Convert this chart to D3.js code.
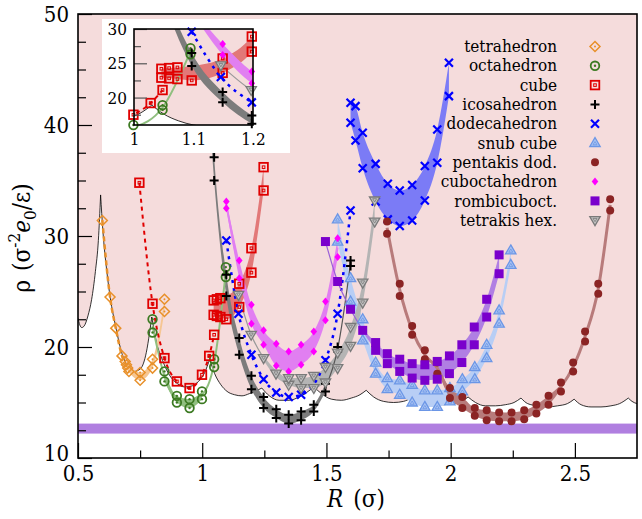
<!DOCTYPE html>
<html>
<head>
<meta charset="utf-8">
<script src="https://cdn.jsdelivr.net/npm/d3@7"></script>
<style>
  body { margin: 0; background: #fff; }
  svg text { font-family: 'DejaVu Serif Condensed', 'DejaVu Serif', serif; font-stretch: condensed; fill: #000; }
</style>
</head>
<body>
<svg id="chart" width="642" height="519"></svg>
<script>
// ---- data (R in sigma, rho in sigma^-2 e0/eps) ----
const legendNames = ['tetrahedron', 'octahedron', 'cube', 'icosahedron', 'dodecahedron',
  'snub cube', 'pentakis dod.', 'cuboctahedron', 'rombicuboct.', 'tetrakis hex.']

const xMajorTicks = [0.5, 1, 1.5, 2, 2.5]
const yMajorTicks = [10, 20, 30, 40, 50]
const insetXTicks = [1, 1.1, 1.2]
const insetYTicks = [20, 25, 30]

// boundary of the shaded region, one array per scallop (cusp to cusp)
const boundary = [
  [[0.5, 22.6], [0.507, 22.0], [0.515, 21.75], [0.525, 21.9], [0.54, 22.8], [0.555, 24.3], [0.57, 26.8], [0.582, 29.6], [0.591, 33.7]],
  [[0.591, 33.7], [0.60, 30.5], [0.615, 27.0], [0.63, 24.4], [0.652, 21.8], [0.677, 19.4], [0.70, 18.3], [0.725, 17.8], [0.75, 18.0], [0.772, 19.2], [0.797, 22.7]],
  [[0.797, 22.7], [0.815, 20.5], [0.84, 18.8], [0.87, 17.4], [0.90, 16.7], [0.93, 16.4], [0.96, 16.5], [0.985, 16.9], [1.01, 17.7], [1.03, 18.9]],
  [[1.03, 18.9], [1.05, 17.6], [1.075, 16.6], [1.10, 16.0], [1.13, 15.7], [1.16, 15.6], [1.19, 15.8], [1.24, 16.3]],
  [[1.24, 16.3], [1.27, 15.6], [1.31, 15.2], [1.35, 15.2], [1.39, 15.5], [1.42, 15.9], [1.45, 16.4]],
  [[1.45, 16.4], [1.48, 15.8], [1.52, 15.3], [1.56, 15.2], [1.60, 15.4], [1.635, 15.7], [1.66, 16.1]],
  [[1.66, 16.1], [1.69, 15.5], [1.73, 15.1], [1.77, 15.0], [1.81, 15.1], [1.84, 15.4], [1.865, 15.8]],
  [[1.865, 15.8], [1.89, 15.2], [1.93, 14.9], [1.97, 14.8], [2.01, 14.9], [2.045, 15.1], [2.07, 15.5]],
  [[2.07, 15.5], [2.10, 15.0], [2.14, 14.7], [2.18, 14.7], [2.22, 14.8], [2.255, 15.0], [2.283, 15.4]],
  [[2.283, 15.4], [2.31, 14.9], [2.35, 14.7], [2.39, 14.6], [2.43, 14.7], [2.47, 14.9], [2.497, 15.3]],
  [[2.497, 15.3], [2.525, 14.8], [2.565, 14.6], [2.605, 14.6], [2.645, 14.7], [2.68, 14.9], [2.715, 15.4]],
  [[2.715, 15.4], [2.73, 15.1], [2.75, 14.9]],
]
const flatBand = [12.2, 13.1]

const tetraPts = [[0.598, 31.4], [0.629, 24.5], [0.652, 21.7], [0.677, 19.2], [0.69, 18.7], [0.695, 18.4], [0.70, 18.1], [0.705, 17.8], [0.75, 17.7], [0.75, 17.0], [0.80, 18.9], [0.80, 18.1], [0.848, 24.3], [0.848, 23.2]]
const tetraLine = [[0.598, 31.4], [0.629, 24.5], [0.652, 21.7], [0.677, 19.2], [0.70, 18.1]]
const tetraBand = [[0.695, 18.0, 18.7], [0.75, 17.0, 17.7], [0.80, 18.1, 18.9], [0.848, 23.2, 24.3]]

const octaPts = [[0.80, 22.5], [0.80, 21.3], [0.848, 17.8], [0.848, 16.9], [0.898, 15.6], [0.898, 15.0], [0.949, 15.3], [0.949, 14.5], [0.999, 16.0], [0.999, 15.3], [1.048, 18.9], [1.048, 18.2], [1.095, 27.2], [1.095, 26.3]]
const octaLine = [[0.80, 21.9], [0.848, 17.35], [0.898, 15.3], [0.949, 14.9], [0.999, 15.65], [1.048, 18.55], [1.095, 26.75]]
const octaBand = [[0.848, 16.9, 17.8], [0.898, 15.0, 15.6], [0.949, 14.5, 15.3], [0.999, 15.3, 16.0]]

const cubePts = [[0.747, 34.8], [0.80, 23.9], [0.848, 19.0], [0.898, 16.9], [0.949, 16.3], [0.999, 17.5], [1.028, 19.2], [1.048, 21.1], [1.046, 22.9], [1.046, 24.2], [1.059, 22.8], [1.059, 24.3], [1.073, 22.7], [1.073, 24.4], [1.097, 22.5], [1.149, 23.6], [1.149, 25.7], [1.198, 26.7], [1.198, 28.9], [1.247, 34.1], [1.247, 36.2]]
const cubeLine = [[0.747, 34.8], [0.80, 23.9], [0.848, 19.0], [0.898, 16.9], [0.949, 16.3], [0.999, 17.5], [1.028, 19.2], [1.048, 21.1]]
const cubeBand = [[1.046, 22.9, 24.2], [1.059, 22.8, 24.3], [1.073, 22.7, 24.4], [1.097, 22.5, 24.6], [1.149, 23.6, 25.7], [1.198, 26.7, 28.9], [1.247, 34.1, 36.2]]

const icoPts = [[1.048, 37.1], [1.048, 35.0], [1.097, 26.5], [1.097, 24.6], [1.149, 20.8], [1.149, 19.3], [1.198, 17.4], [1.198, 16.2], [1.247, 15.5], [1.247, 14.5], [1.298, 14.4], [1.298, 13.6], [1.348, 13.9], [1.348, 13.1], [1.398, 14.2], [1.398, 13.4], [1.449, 14.8], [1.449, 14.2], [1.496, 16.7], [1.496, 16.0], [1.545, 20.0], [1.545, 19.6], [1.597, 27.8], [1.597, 27.3]]
const icoLine = [[1.496, 16.35], [1.545, 19.8], [1.597, 27.55]]
const icoBand = [[1.03, 40.5, 43.5], [1.048, 35.0, 37.1], [1.097, 24.6, 26.5], [1.149, 19.3, 20.8], [1.198, 16.2, 17.4], [1.247, 14.5, 15.5], [1.298, 13.6, 14.4], [1.348, 13.1, 13.9], [1.398, 13.4, 14.2], [1.449, 14.2, 14.8], [1.496, 16.0, 16.7]]

const dodecaPts = [[1.097, 29.6], [1.146, 23.0], [1.198, 19.3], [1.247, 17.1], [1.298, 15.9], [1.348, 15.5], [1.398, 15.7], [1.496, 18.8], [1.545, 23.0], [1.597, 32.3],
  [1.597, 42.0], [1.617, 41.7], [1.597, 40.2], [1.617, 38.6], [1.646, 39.3], [1.646, 36.1], [1.698, 36.5], [1.698, 33.1], [1.747, 34.7], [1.747, 31.5], [1.795, 34.1], [1.795, 30.9], [1.845, 34.6], [1.845, 31.4], [1.896, 36.3], [1.896, 33.2], [1.946, 39.6], [1.946, 36.6], [1.993, 45.6], [1.993, 42.6]]
const dodecaLine = [[1.097, 29.6], [1.146, 23.0], [1.198, 19.3], [1.247, 17.1], [1.298, 15.9], [1.348, 15.5], [1.398, 15.7], [1.496, 18.8], [1.545, 23.0], [1.597, 32.3]]
const dodecaBand = [[1.597, 40.2, 42.2], [1.617, 38.6, 41.7], [1.646, 36.1, 39.3], [1.698, 33.1, 36.5], [1.747, 31.5, 34.7], [1.795, 30.9, 34.1], [1.845, 31.4, 34.6], [1.896, 33.2, 36.3], [1.946, 36.6, 39.6], [1.993, 42.6, 45.6]]

const snubBand = [[1.545, 29.5, 31.5], [1.597, 24.1, 26.2], [1.646, 20.6, 22.5], [1.698, 17.6, 18.6], [1.745, 16.2, 17.2], [1.795, 15.7, 17.0], [1.845, 15.0, 16.6], [1.896, 14.6, 16.1], [1.946, 14.6, 16.1], [1.997, 15.1, 16.3], [2.047, 16.0, 17.1], [2.097, 17.1, 18.2], [2.145, 19.0, 20.2], [2.195, 22.1, 23.3], [2.242, 27.4, 28.7]]

const pentaPts = [[1.744, 31.3], [1.744, 30.2], [1.795, 25.7], [1.795, 24.6], [1.845, 21.9], [1.845, 21.1], [1.896, 19.7], [1.896, 18.9], [1.946, 18.6], [1.946, 17.6], [1.997, 16.3], [1.997, 15.4], [2.047, 15.5], [2.047, 14.5], [2.097, 14.5], [2.097, 13.8], [2.145, 14.3], [2.145, 13.4], [2.195, 14.1], [2.195, 13.3], [2.245, 14.1], [2.245, 13.3], [2.296, 14.3], [2.296, 13.5], [2.345, 14.8], [2.345, 14.0], [2.394, 15.6], [2.394, 14.8], [2.444, 16.8], [2.444, 16.0], [2.493, 18.6], [2.493, 17.8], [2.541, 21.4], [2.541, 20.5], [2.594, 25.7], [2.594, 24.8], [2.642, 33.3], [2.642, 32.3]]
const pentaBand = [[1.946, 18.0, 18.3], [1.997, 15.4, 16.3], [2.047, 14.5, 15.5], [2.097, 13.8, 14.5], [2.145, 13.4, 14.3], [2.195, 13.3, 14.1], [2.245, 13.3, 14.1], [2.296, 13.5, 14.3], [2.345, 14.0, 14.8], [2.394, 14.8, 15.6], [2.444, 16.2, 16.6]]

const cuboBand = [[1.097, 32.5, 33.1], [1.149, 26.2, 27.8], [1.198, 22.1, 23.8], [1.247, 20.2, 21.5], [1.298, 18.3, 20.3], [1.348, 17.8, 19.6], [1.398, 18.4, 20.2], [1.449, 19.6, 21.4], [1.496, 22.4, 24.1], [1.545, 28.1, 29.8]]

const rombiPts = [[1.496, 29.5], [1.545, 25.9], [1.597, 23.4], [1.646, 21.5]]
const rombiLine = [[1.496, 29.5], [1.545, 25.9], [1.597, 23.4], [1.646, 21.5]]
const rombiBand = [[1.646, 21.4, 21.6], [1.698, 19.7, 20.4], [1.745, 18.5, 19.4], [1.795, 17.8, 18.9], [1.845, 17.2, 18.5], [1.896, 17.0, 18.4], [1.946, 17.1, 18.7], [1.995, 17.6, 19.2], [2.045, 18.6, 20.2], [2.095, 20.2, 21.8], [2.145, 22.7, 24.3], [2.195, 26.6, 28.3]]

const tetrakisPts = [[1.146, 24.7], [1.197, 21.1], [1.247, 19.0], [1.297, 17.6]]
const tetrakisLine = [[1.146, 24.7], [1.197, 21.1], [1.247, 19.0]]
const tetrakisBand = [[1.247, 18.8, 19.2], [1.297, 17.3, 17.9], [1.348, 16.6, 17.2], [1.398, 16.3, 17.2], [1.449, 16.3, 17.4], [1.496, 16.8, 18.2], [1.545, 18.1, 19.5], [1.597, 20.1, 21.8], [1.646, 24.0, 25.8], [1.694, 31.3, 33.2]]

// ---- series styles ----
const bandPts = band => band.flatMap(d => [[d[0], d[1]], [d[0], d[2]]])
const bandMid = band => band.map(d => [d[0], (d[1] + d[2]) / 2])
const pairMid = pts => d3.range(0, pts.length - 1, 2).map(i => [pts[i][0], (pts[i][1] + pts[i + 1][1]) / 2])

const series = [
  { name: legendNames[0], pts: tetraPts, band: tetraBand, line: tetraLine, marker: 'diamondOpen', color: '#e8902a', bandColor: '#f6c692', lineColor: '#e8902a', lineWidth: 2.5, dash: '5,3' },
  { name: legendNames[1], pts: octaPts, band: octaBand, line: octaLine, marker: 'circleOpen', color: '#3c7a22', bandColor: '#90bf7f', lineColor: '#90bf7f', lineWidth: 2 },
  { name: legendNames[2], pts: cubePts, band: cubeBand, line: cubeLine, marker: 'squareOpen', color: '#e00000', bandColor: '#e27878', lineColor: '#e00000', lineWidth: 2, dash: '4,4' },
  { name: legendNames[3], pts: icoPts, band: icoBand, line: icoLine, marker: 'plus', color: '#000', bandColor: '#7c7c7c', lineColor: '#555', lineWidth: 1.2 },
  { name: legendNames[4], pts: dodecaPts, band: dodecaBand, line: dodecaLine, marker: 'cross', color: '#0000ff', bandColor: '#7b7bf6', lineColor: '#0000ff', lineWidth: 2.5, dash: '3,5' },
  { name: legendNames[5], pts: bandPts(snubBand), band: snubBand, line: null, marker: 'triUp', color: '#6b96e6', bandColor: '#b8cef5' },
  { name: legendNames[6], pts: pentaPts, band: pentaBand, line: pairMid(pentaPts), marker: 'dot', color: '#8b2424', bandColor: '#b87b7b', lineColor: '#b87b7b', lineWidth: 3 },
  { name: legendNames[7], pts: bandPts(cuboBand), band: cuboBand, line: bandMid(cuboBand), marker: 'diamondSmall', color: '#ff00ff', bandColor: '#e17ff1', lineColor: '#e17ff1', lineWidth: 2 },
  { name: legendNames[8], pts: rombiPts.concat(bandPts(rombiBand.slice(1))), band: rombiBand, line: rombiLine, marker: 'squareFill', color: '#7a00cc', bandColor: '#b07fe3', lineColor: '#9a5fd8', lineWidth: 1.2 },
  { name: legendNames[9], pts: tetrakisPts.concat(bandPts(tetrakisBand.slice(2))), band: tetrakisBand, line: tetrakisLine, marker: 'triDown', color: '#7a7a7a', bandColor: '#b4b4b4', lineColor: '#999', lineWidth: 1.2 },
]

// ---- layout ----
const serif = "'DejaVu Serif Condensed', 'DejaVu Serif', serif"
const svg = d3.select('#chart')
const x = d3.scaleLinear().domain([0.5, 2.75]).range([78, 637])
const y = d3.scaleLinear().domain([10, 50]).range([458, 14])
const ix = d3.scaleLinear().domain([1, 1.2]).range([134, 253])
const iy = d3.scaleLinear().domain([16, 30]).range([125, 29])

const defs = svg.append('defs')
defs.append('clipPath').attr('id', 'main-clip')
  .append('rect').attr('x', 78).attr('y', 14).attr('width', 559).attr('height', 444)
defs.append('clipPath').attr('id', 'inset-clip')
  .append('rect').attr('x', 134).attr('y', 29).attr('width', 119).attr('height', 96)

function shadePath(sx, sy) {
  const line = d3.line().x(d => sx(d[0])).y(d => sy(d[1])).curve(d3.curveMonotoneX)
  const parts = boundary.map((seg, i) => (i ? line(seg).replace(/^M/, 'L') : line(seg)))
  return parts.join('') + `L${sx(2.75)},${sy(60)}L${sx(0.5)},${sy(60)}Z`
}

function boundaryPath(sx, sy) {
  const line = d3.line().x(d => sx(d[0])).y(d => sy(d[1])).curve(d3.curveMonotoneX)
  return boundary.map(seg => line(seg)).join('')
}

function drawMarker(g, type, color, px, py) {
  const m = g.append('g').attr('transform', `translate(${px},${py})`)
  if (type === 'diamondOpen') {
    m.append('path').attr('d', 'M0,-5L5,0L0,5L-5,0Z').attr('fill', 'none').attr('stroke', color).attr('stroke-width', 1.5)
    m.append('circle').attr('r', 1).attr('fill', color)
  } else if (type === 'circleOpen') {
    m.append('circle').attr('r', 4.3).attr('fill', 'none').attr('stroke', color).attr('stroke-width', 1.8)
    m.append('circle').attr('r', 1.2).attr('fill', color)
  } else if (type === 'squareOpen') {
    m.append('rect').attr('x', -4.3).attr('y', -4.3).attr('width', 8.6).attr('height', 8.6).attr('fill', 'none').attr('stroke', color).attr('stroke-width', 1.8)
    m.append('rect').attr('x', -1.3).attr('y', -1.3).attr('width', 2.6).attr('height', 2.6).attr('fill', 'none').attr('stroke', color).attr('stroke-width', 1)
  } else if (type === 'plus') {
    m.append('path').attr('d', 'M-4.5,0H4.5M0,-4.5V4.5').attr('stroke', color).attr('stroke-width', 2)
  } else if (type === 'cross') {
    m.append('path').attr('d', 'M-4,-4L4,4M-4,4L4,-4').attr('stroke', color).attr('stroke-width', 2.2)
  } else if (type === 'triUp') {
    m.append('path').attr('d', 'M0,-5.5L5.2,3.5L-5.2,3.5Z').attr('fill', '#a8c2f2').attr('stroke', color).attr('stroke-width', 1.3)
    m.append('path').attr('d', 'M0,-1.5L2,1.8L-2,1.8Z').attr('fill', 'none').attr('stroke', color).attr('stroke-width', 0.8)
  } else if (type === 'dot') {
    m.append('circle').attr('r', 4).attr('fill', color)
  } else if (type === 'diamondSmall') {
    m.append('path').attr('d', 'M0,-4L3.3,0L0,4L-3.3,0Z').attr('fill', color)
  } else if (type === 'squareFill') {
    m.append('rect').attr('x', -4.5).attr('y', -4.5).attr('width', 9).attr('height', 9).attr('fill', color)
  } else if (type === 'triDown') {
    m.append('path').attr('d', 'M0,5.5L5.2,-3.5L-5.2,-3.5Z').attr('fill', '#c4c4c4').attr('stroke', color).attr('stroke-width', 1.3)
    m.append('path').attr('d', 'M0,1.5L2,-1.8L-2,-1.8Z').attr('fill', 'none').attr('stroke', color).attr('stroke-width', 0.8)
  }
}

function renderPanel(g, sx, sy, clipId, inView) {
  const area = d3.area().x(d => sx(d[0])).y0(d => sy(d[1])).y1(d => sy(d[2])).curve(d3.curveMonotoneX)
  const line = d3.line().x(d => sx(d[0])).y(d => sy(d[1])).curve(d3.curveMonotoneX)

  const core = g.append('g').attr('clip-path', `url(#${clipId})`)
  core.append('path').attr('d', shadePath(sx, sy)).attr('fill', '#f5dcdc')
  core.append('rect')
    .attr('x', sx(0.5)).attr('width', sx(2.75) - sx(0.5))
    .attr('y', sy(flatBand[1])).attr('height', sy(flatBand[0]) - sy(flatBand[1]))
    .attr('fill', '#b07fe0')
  core.append('path').attr('d', boundaryPath(sx, sy)).attr('fill', 'none').attr('stroke', '#000').attr('stroke-width', 0.8)

  series.forEach(s => {
    core.append('path').attr('d', area(s.band)).attr('fill', s.bandColor)
  })
  series.forEach(s => {
    if (!s.line) return
    core.append('path').attr('d', line(s.line))
      .attr('fill', 'none').attr('stroke', s.lineColor).attr('stroke-width', s.lineWidth)
      .attr('stroke-dasharray', s.dash || null)
  })

  const marks = g.append('g')
  series.forEach(s => {
    s.pts.filter(inView).forEach(d => drawMarker(marks, s.marker, s.color, sx(d[0]), sy(d[1])))
  })
}

function styleTicks(g, size) {
  g.attr('font-family', serif)
  g.selectAll('.tick text').attr('font-family', serif).style('font-size', `${size}px`)
}

// ---- main panel ----
const main = svg.append('g')
renderPanel(main, x, y, 'main-clip', () => true)

const yMinor = d3.range(12.5, 50, 2.5).filter(v => v % 10 !== 0)
const xMinor = [0.75, 1.25, 1.75, 2.25]

main.append('g').attr('transform', 'translate(78,0)')
  .call(d3.axisLeft(y).tickValues(yMinor).tickSize(-8).tickFormat(''))
  .call(g => g.select('.domain').remove())
main.append('g').attr('transform', 'translate(78,0)')
  .call(d3.axisLeft(y).tickValues(yMajorTicks).tickSize(-14).tickPadding(9).tickFormat(d3.format('d')))
  .call(g => g.select('.domain').remove())
  .call(g => styleTicks(g, 22))
  .call(g => g.selectAll('.tick text').filter(d => d === 10).attr('dy', '0.1em'))
main.append('g').attr('transform', 'translate(0,458)')
  .call(d3.axisBottom(x).tickValues(xMinor).tickSize(-7.5).tickFormat(''))
  .call(g => g.select('.domain').remove())
main.append('g').attr('transform', 'translate(0,458)')
  .call(d3.axisBottom(x).tickValues(xMajorTicks).tickSize(-15).tickPadding(7).tickFormat(d => String(d)))
  .call(g => g.select('.domain').remove())
  .call(g => styleTicks(g, 22))
main.selectAll('.tick line').attr('stroke', '#000').attr('stroke-width', 1.2)

main.append('rect').attr('x', 78).attr('y', 14).attr('width', 559).attr('height', 444)
  .attr('fill', 'none').attr('stroke', '#000').attr('stroke-width', 1.6)

// axis titles
const xTitle = svg.append('text').attr('x', 356).attr('y', 507).attr('text-anchor', 'middle')
  .attr('font-family', serif).style('font-size', '24px')
xTitle.append('tspan').attr('font-style', 'italic').text('R')
xTitle.append('tspan').attr('dx', 10).text('(σ)')

const yTitle = svg.append('text').attr('transform', 'translate(30,238) rotate(-90)').attr('text-anchor', 'middle')
  .attr('font-family', serif).style('font-size', '24px')
yTitle.append('tspan').text('ρ')
yTitle.append('tspan').attr('dx', 9).text('(σ')
yTitle.append('tspan').attr('dy', -10).style('font-size', '17px').text('-2')
yTitle.append('tspan').attr('dy', 10).attr('font-style', 'italic').text('e')
yTitle.append('tspan').attr('dy', 6).style('font-size', '17px').text('0')
yTitle.append('tspan').attr('dy', -6).text('/ε)')

// ---- legend ----
const legend = svg.append('g').attr('font-family', serif)
series.forEach((s, i) => {
  const ly = 46.5 + i * 19.3
  legend.append('text').attr('x', 557).attr('y', ly).attr('dy', '0.33em')
    .attr('text-anchor', 'end').attr('font-family', serif).style('font-size', '17px').text(s.name)
  drawMarker(legend, s.marker, s.color, 595, ly)
})

// ---- inset ----
const inset = svg.append('g')
inset.append('rect').attr('x', 102).attr('y', 19).attr('width', 188).attr('height', 134).attr('fill', '#fff')
renderPanel(inset, ix, iy, 'inset-clip',
  d => d[0] >= 0.999 && d[0] <= 1.201 && d[1] >= 15.8 && d[1] <= 30.2)

inset.append('g').attr('transform', 'translate(134,0)')
  .call(d3.axisLeft(iy).tickValues([17.5, 22.5, 27.5]).tickSize(-7).tickFormat(''))
  .call(g => g.select('.domain').remove())
inset.append('g').attr('transform', 'translate(134,0)')
  .call(d3.axisLeft(iy).tickValues(insetYTicks).tickSize(-13).tickPadding(7).tickFormat(d3.format('d')))
  .call(g => g.select('.domain').remove())
  .call(g => styleTicks(g, 17))
inset.append('g').attr('transform', 'translate(0,125)')
  .call(d3.axisBottom(ix).tickValues(insetXTicks).tickSize(0).tickPadding(8).tickFormat(d => String(d)))
  .call(g => g.select('.domain').remove())
  .call(g => styleTicks(g, 17))
inset.selectAll('.tick line').attr('stroke', '#555').attr('stroke-width', 1.2)
inset.append('rect').attr('x', 134).attr('y', 29).attr('width', 119).attr('height', 96)
  .attr('fill', 'none').attr('stroke', '#000').attr('stroke-width', 1.6)
</script>
</body>
</html>
